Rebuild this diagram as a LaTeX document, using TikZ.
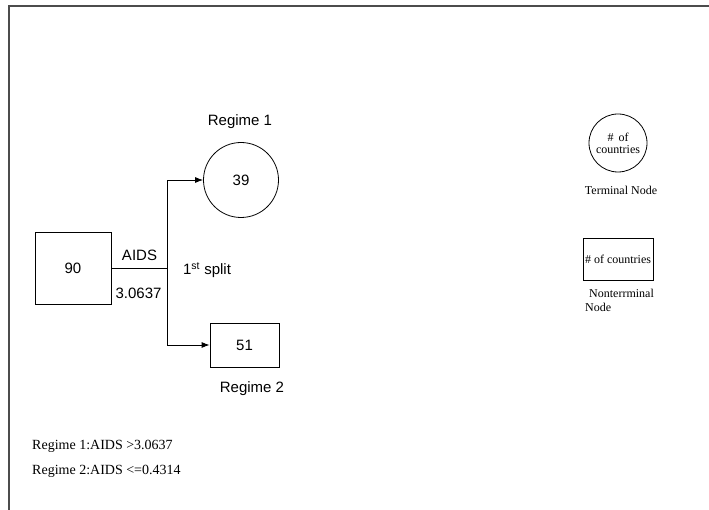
\documentclass[tikz,border=0pt]{standalone}
\usepackage{fontspec}
\setmainfont{Liberation Serif}
\setsansfont{Liberation Sans}
\usetikzlibrary{positioning,arrows.meta}

\tikzset{
  treebox/.style={draw, line width=0.8pt, inner sep=0pt},
  treecirc/.style={draw, circle, line width=0.8pt, inner sep=0pt},
  branch/.style={line width=0.8pt, -{Latex[length=8pt,width=6pt]}},
  legendtxt/.style={font=\rmfamily\fontsize{12}{14}\selectfont},
  ruletxt/.style={anchor=west, inner sep=0pt, font=\rmfamily\fontsize{14}{17}\selectfont},
}

\begin{document}
\begin{tikzpicture}[x=1pt, y=-1pt, font=\sffamily\fontsize{15}{18}\selectfont]

  \useasboundingbox (0,0) rectangle (709,510);

  % frame
  \draw[gray!60!black, line width=2pt] (9,510) -- (9,6) -- (709,6);

  % root node
  \node[treebox, minimum width=76pt, minimum height=72pt] (root) at (73,268) {90};

  % split point
  \coordinate (split) at (167,268);

  % regime 1: terminal node
  \node[treecirc, minimum size=75pt] (reg1) at (241,180) {39};
  \node (reg1lbl) at (240,122) {Regime 1};

  % regime 2
  \node[treebox, minimum width=69pt, minimum height=44pt] (reg2) at (244.5,345) {51};
  \node (reg2lbl) at (252,389) {Regime 2};

  % connectors
  \draw[line width=0.8pt] (root.east) -- (split);
  \draw[branch] (split) |- (reg1.west);
  \draw[branch] (split) |- (reg2.west);

  % split labels
  \node (aids) at (139.5,255) {AIDS};
  \node (cut) at (138.5,293) {3.0637};
  \node (splitlbl) at (207,270) {1\textsuperscript{st} split};

  % legend
  \node[treecirc, minimum size=58pt, legendtxt, align=center] (legcirc) at (618,143)
    {\#\, of\\[-2pt]countries};
  \node[legendtxt] (termlbl) at (621,190) {Terminal Node};
  \node[treebox, minimum width=70pt, minimum height=42pt, legendtxt] (legbox) at (618,259)
    {\# of countries};
  \node[legendtxt, anchor=north west, align=left, inner sep=0pt] (ntlbl) at (585,289)
    {\hspace*{4pt}Nonterrminal\\Node};

  % rules
  \node[ruletxt] (rule1) at (32,446) {Regime 1:AIDS >3.0637};
  \node[ruletxt] (rule2) at (32,471) {Regime 2:AIDS <=0.4314};

\end{tikzpicture}
\end{document}
